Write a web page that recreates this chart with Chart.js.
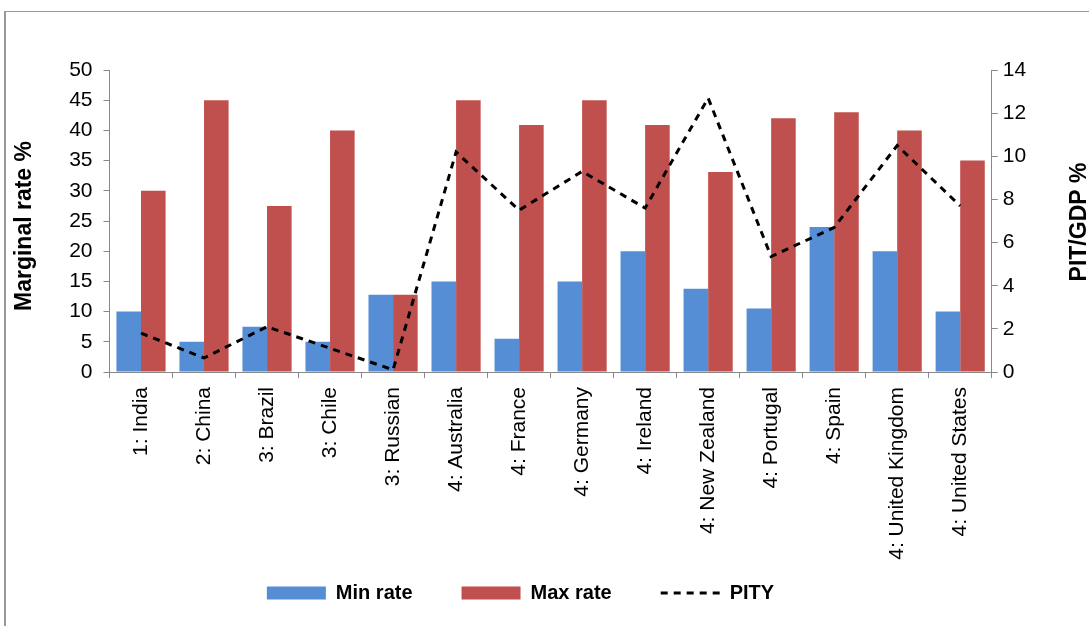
<!DOCTYPE html>
<html lang="en">
<head>
    <meta charset="UTF-8">
    <title>Marginal rates and PIT/GDP</title>
    <script src="https://cdn.jsdelivr.net/npm/chart.js@4.4.0/dist/chart.umd.min.js"></script>
    <style>
        body { margin: 0; background: #fff; }
        #wrap { position: relative; width: 1089px; height: 626px; overflow: hidden; }
        #frame { position: absolute; left: 4px; top: 11px; width: 1200px; height: 700px;
                 border-top: 1px solid #999; border-left: 2px solid #999; }
        #chart { position: absolute; left: 0; top: 0; }
    </style>
</head>
<body>
<div id="wrap">
    <div id="frame"></div>
    <canvas id="chart" width="1089" height="626"></canvas>
</div>
<script>
    var countries = ['1: India', '2: China', '3: Brazil', '3: Chile', '3: Russian', '4: Australia', '4: France',
        '4: Germany', '4: Ireland', '4: New Zealand', '4: Portugal', '4: Spain', '4: United Kingdom', '4: United States'];
    var minRate = [10, 5, 7.5, 5, 12.8, 15, 5.5, 15, 20, 13.8, 10.5, 24, 20, 10];
    var maxRate = [30, 45, 27.5, 40, 12.8, 45, 40.9, 45, 40.9, 33.1, 42, 43, 40, 35];
    var pity = [1.8, 0.65, 2.1, 1.1, 0.1, 10.2, 7.5, 9.3, 7.6, 12.7, 5.35, 6.7, 10.5, 7.7];
    var rateTicks = { min: 0, max: 50, step: 5 };
    var gdpTicks = { min: 0, max: 14, step: 2 };

    var FONT = '"Liberation Sans", Arial, sans-serif';
    Chart.defaults.font.family = FONT;
    Chart.defaults.color = '#000';

    function sideTitle(ctx, text, x, y) {
        ctx.save();
        ctx.translate(x, y);
        ctx.rotate(-Math.PI / 2);
        ctx.font = 'bold 23px ' + FONT;
        ctx.fillStyle = '#000';
        ctx.textAlign = 'center';
        ctx.textBaseline = 'middle';
        ctx.fillText(text, 0, 0);
        ctx.restore();
    }

    // both axis titles read bottom-to-top; Chart.js turns the right one the other way
    var extras = {
        id: 'extras',
        afterLayout: function (chart) {
            chart.legend.left -= 24;
            chart.legend.right -= 24;
            // long category names run past the axis box, don't clip them
            chart.scales.x.bottom = chart.height;
        },
        afterDraw: function (chart) {
            sideTitle(chart.ctx, 'Marginal rate %', 25, 226);
            sideTitle(chart.ctx, 'PIT/GDP %', 1080, 222);
        }
    };

    new Chart(document.getElementById('chart'), {
        type: 'bar',
        data: {
            labels: countries,
            datasets: [
                { label: 'Min rate', data: minRate, backgroundColor: '#558ED5', yAxisID: 'y' },
                { label: 'Max rate', data: maxRate, backgroundColor: '#C0504D', yAxisID: 'y' },
                {
                    type: 'line', label: 'PITY', data: pity, yAxisID: 'y1', order: -1,
                    borderColor: '#000', borderWidth: 3, borderDash: [7, 6],
                    pointRadius: 0, fill: false, tension: 0
                }
            ]
        },
        options: {
            responsive: false,
            animation: false,
            categoryPercentage: 0.78,
            barPercentage: 1,
            layout: { padding: { top: 70, left: 0, right: 0, bottom: 13 } },
            plugins: {
                tooltip: { enabled: false },
                legend: {
                    position: 'bottom',
                    labels: {
                        usePointStyle: true,
                        pointStyleWidth: 59,
                        boxHeight: 13,
                        padding: 49,
                        color: '#000',
                        font: { size: 20, weight: 'bold' },
                        generateLabels: function (chart) {
                            return chart.data.datasets.map(function (ds, i) {
                                var isLine = ds.type === 'line';
                                return {
                                    text: ds.label,
                                    datasetIndex: i,
                                    fillStyle: isLine ? 'rgba(0,0,0,0)' : ds.backgroundColor,
                                    strokeStyle: isLine ? '#000' : ds.backgroundColor,
                                    lineWidth: isLine ? 3 : 0,
                                    lineDash: isLine ? [7, 6] : [],
                                    pointStyle: isLine ? 'line' : 'rect',
                                    fontColor: '#000',
                                    hidden: false
                                };
                            });
                        }
                    }
                }
            },
            scales: {
                x: {
                    grid: { drawOnChartArea: false, tickLength: 6, color: '#888', offset: true },
                    border: { color: '#888' },
                    ticks: { minRotation: 90, maxRotation: 90, autoSkip: false, padding: 9, font: { size: 21 } },
                    afterFit: function (s) { s.height = 162; }
                },
                y: {
                    position: 'left',
                    min: rateTicks.min, max: rateTicks.max,
                    ticks: { stepSize: rateTicks.step, padding: 11, font: { size: 21 } },
                    grid: { drawOnChartArea: false, tickLength: 6, color: '#888' },
                    border: { color: '#888' },
                    afterFit: function (s) { s.width = 109.5; }
                },
                y1: {
                    position: 'right',
                    min: gdpTicks.min, max: gdpTicks.max,
                    ticks: { stepSize: gdpTicks.step, padding: 5, font: { size: 21 } },
                    grid: { drawOnChartArea: false, tickLength: 6, color: '#888' },
                    border: { color: '#888' },
                    afterFit: function (s) { s.width = 97.3; }
                }
            }
        },
        plugins: [extras]
    });
</script>
</body>
</html>
